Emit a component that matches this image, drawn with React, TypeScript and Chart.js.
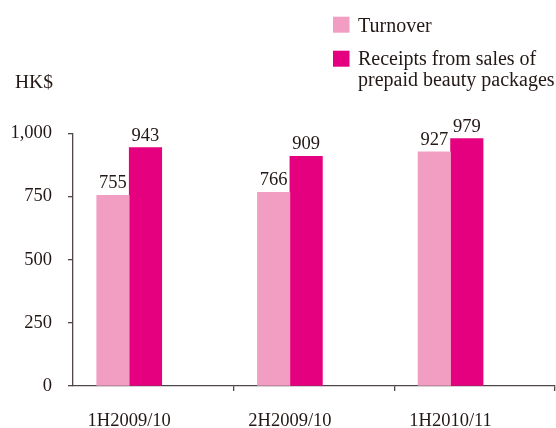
import { useEffect, useRef } from "react";
import { Chart, registerables } from "chart.js";

Chart.register(...registerables);

// Half-year periods and the two series (HK$ millions)
const categories = ["1H2009/10", "2H2009/10", "1H2010/11"];
const turnover = [755, 766, 927];
const receipts = [943, 909, 979];
const seriesNames = ["Turnover", "Receipts from sales of prepaid beauty packages"];
const legendLines = [["Turnover"], ["Receipts from sales of", "prepaid beauty packages"]];
const yTickStep = 250;
const yMax = 1000;
const unitLabel = "HK$";

const PINK = "#F19EC2";
const MAGENTA = "#E4007F";
const INK = "#231815";
const AXIS = "#4f4747";
const SERIF = '"Liberation Serif", "Times New Roman", serif';

// Where the category separator ticks sit, relative to each group centre
const SEPARATOR_SHIFT = 0.65;

const overlayPlugin = {
  id: "overlay",
  afterDatasetsDraw(chart: any) {
    const ctx = chart.ctx as CanvasRenderingContext2D;
    ctx.save();

    // values above each bar
    ctx.fillStyle = INK;
    ctx.font = `18.5px ${SERIF}`;
    ctx.textAlign = "center";
    ctx.textBaseline = "alphabetic";
    chart.data.datasets.forEach((ds: any, di: number) => {
      chart.getDatasetMeta(di).data.forEach((bar: any, i: number) => {
        ctx.fillText(String(ds.data[i].y), bar.x, bar.y - 7);
      });
    });

    // unit caption
    ctx.textAlign = "left";
    ctx.font = `19.5px ${SERIF}`;
    ctx.fillText(unitLabel, 15, 88);

    // legend
    ctx.font = `20px ${SERIF}`;
    const swatchTops = [16.7, 50.7];
    const firstBaselines = [32.3, 65];
    chart.data.datasets.forEach((ds: any, di: number) => {
      ctx.fillStyle = ds.backgroundColor;
      ctx.fillRect(333, swatchTops[di], 16.5, 16);
      ctx.fillStyle = INK;
      legendLines[di].forEach((line, li) => {
        ctx.fillText(line, 358, firstBaselines[di] + li * 21);
      });
    });

    ctx.restore();
  },
};

export default function App() {
  const canvasRef = useRef<HTMLCanvasElement | null>(null);

  useEffect(() => {
    if (!canvasRef.current) return;
    const separatorTicks = categories.flatMap((_, i) => [i, i + SEPARATOR_SHIFT]);

    const chart = new Chart(canvasRef.current, {
      type: "bar",
      data: {
        datasets: [
          {
            label: seriesNames[0],
            data: turnover.map((v, i) => ({ x: i, y: v })),
            backgroundColor: PINK,
            barThickness: 32.5,
          },
          {
            label: seriesNames[1],
            data: receipts.map((v, i) => ({ x: i, y: v })),
            backgroundColor: MAGENTA,
            barThickness: 32.5,
          },
        ],
      },
      options: {
        responsive: false,
        animation: false,
        devicePixelRatio: 1,
        layout: { padding: { top: 133.3, right: 1, bottom: 0, left: 0 } },
        plugins: {
          legend: { display: false },
          tooltip: { enabled: false },
        },
        scales: {
          x: {
            type: "linear",
            offset: false,
            min: -0.35,
            max: categories.length - 1 + SEPARATOR_SHIFT,
            afterBuildTicks: (scale: any) => {
              scale.ticks = separatorTicks.map((value) => ({ value }));
            },
            afterFit: (scale: any) => {
              scale.height = 42;
              scale.paddingLeft = 0;
              scale.paddingRight = 0;
            },
            ticks: {
              autoSkip: false,
              maxRotation: 0,
              padding: 19,
              color: INK,
              font: { family: SERIF, size: 18.5 },
              callback: (value: any) =>
                Number.isInteger(value) ? categories[value] : "",
            },
            grid: {
              offset: false,
              drawOnChartArea: false,
              tickLength: 5,
              lineWidth: 1.3,
              tickColor: (ctx: any) =>
                ctx.tick && Number.isInteger(ctx.tick.value) ? "rgba(0,0,0,0)" : AXIS,
            },
            border: { color: AXIS, width: 1.3 },
          },
          y: {
            min: 0,
            max: yMax,
            afterFit: (scale: any) => {
              scale.width = 73;
              scale.paddingTop = 0;
              scale.paddingBottom = 0;
            },
            ticks: {
              stepSize: yTickStep,
              padding: 16,
              color: INK,
              font: { family: SERIF, size: 18.5 },
              callback: (value: any) => Number(value).toLocaleString("en-US"),
            },
            grid: {
              drawOnChartArea: false,
              tickLength: 5,
              lineWidth: 1.3,
              tickColor: AXIS,
            },
            border: { color: AXIS, width: 1.3 },
          },
        },
      },
      plugins: [overlayPlugin],
    } as any);

    return () => chart.destroy();
  }, []);

  return (
    <div style={{ position: "absolute", left: 0, top: 0, width: 556, height: 428, background: "#fff" }}>
      <canvas ref={canvasRef} width={556} height={428} />
    </div>
  );
}
